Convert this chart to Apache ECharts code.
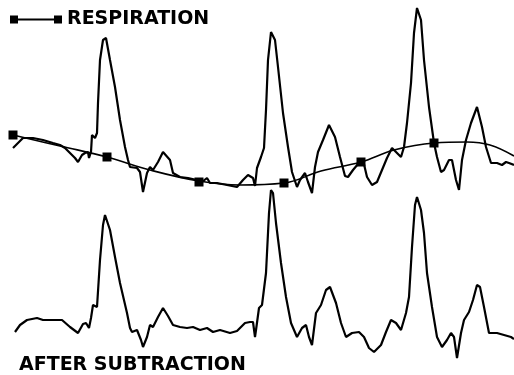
<!DOCTYPE html>
<html><head><meta charset="utf-8">
<script src="https://cdn.jsdelivr.net/npm/echarts@6/dist/echarts.min.js"></script>
<style>html,body{margin:0;padding:0;background:#fff}#c{width:514px;height:375px}</style>
</head><body><div id="c"></div>
<script>
// Raw ECG with respiration baseline wander: [time, level]
var ecgRaw = [[13,148],[18,143],[23,138],[33,138],[43,140],[53,143],[60,145],[65,148],[70,153],[75,158],[78,162],[82,155],[85,153],[88,152],[89,158],[91,152],[92,135],[93,133],[95,138],[97,133],[98,103],[100,60],[103,40],[106,38],[110,60],[115,87],[120,120],[125,147],[128,160],[130,167],[137,168],[140,172],[143,192],[147,173],[150,167],[153,170],[158,162],[163,152],[165,152],[170,160],[173,173],[180,177],[188,178],[197,180],[202,182],[207,178],[210,183],[217,183],[227,185],[237,187],[243,180],[248,175],[253,178],[255,186],[257,168],[261,157],[264,148],[266,110],[268,60],[271,32],[273,30],[275,40],[278,67],[283,113],[288,147],[292,172],[297,187],[300,180],[305,173],[308,182],[312,193],[315,167],[318,152],[323,140],[329,125],[331,127],[335,137],[340,157],[345,176],[348,177],[353,170],[358,164],[363,160],[367,177],[372,185],[377,182],[382,170],[387,158],[392,148],[396,152],[401,157],[404,147],[407,123],[411,83],[414,33],[417,8],[421,20],[424,60],[429,107],[434,143],[437,157],[441,172],[444,170],[449,160],[452,160],[456,180],[459,190],[462,160],[466,140],[471,123],[477,107],[479,108],[482,127],[486,147],[491,163],[497,163],[502,165],[506,162],[509,163],[514,165]];
// Respiration estimate curve
var respCurve = [[13,135],[60,146],[107,157],[150,170],[199,181],[240,185],[284,183],[321,171],[361,162],[394,150],[434,143],[467,142],[490,145],[514,156]];
// Respiration sample markers
var respMarkers = [[13,135],[107,157],[199,182],[284,183],[361,162],[434,143]];
// ECG after subtraction
var ecgCorrected = [[15,332],[20,325],[27,320],[37,318],[43,320],[53,320],[62,320],[70,327],[78,333],[83,324],[86,323],[88,323],[89,328],[91,318],[93,305],[95,307],[97,307],[100,260],[103,225],[105,215],[107,217],[110,230],[115,257],[120,283],[127,313],[130,328],[132,332],[137,330],[141,340],[143,347],[145,347],[147,337],[150,325],[153,327],[158,317],[163,308],[168,316],[173,325],[180,327],[187,328],[193,327],[200,330],[207,328],[213,332],[220,330],[230,333],[237,331],[245,323],[250,322],[253,322],[255,337],[256,330],[259,308],[262,305],[266,273],[269,213],[271,190],[273,193],[276,223],[281,263],[286,297],[291,323],[297,337],[302,328],[306,325],[309,337],[312,345],[316,313],[321,305],[326,290],[330,287],[336,303],[341,323],[346,337],[352,333],[359,332],[364,337],[369,348],[374,352],[381,345],[386,332],[391,320],[396,323],[401,330],[406,313],[409,297],[412,247],[415,205],[417,197],[421,210],[424,233],[427,273],[432,307],[437,337],[442,347],[447,340],[451,333],[454,337],[457,358],[461,333],[464,320],[469,312],[473,300],[477,285],[480,287],[484,307],[489,333],[497,333],[504,335],[511,337],[514,339]];
var legendLabel = 'RESPIRATION';
var captionText = 'AFTER SUBTRACTION';

var chart = echarts.init(document.getElementById('c'), null, {renderer:'canvas'});
var txt = {fontFamily:'DejaVu Sans', fontWeight:'bold', fontSize:19, color:'#000'};
chart.setOption({
  animation:false,
  backgroundColor:'#fff',
  grid:{left:0,right:0,top:0,bottom:0},
  xAxis:{type:'value',min:0,max:514,show:false},
  yAxis:{type:'value',min:0,max:375,inverse:true,show:false},
  legend:{left:10,top:10,padding:0,itemWidth:52,itemHeight:8,
    data:[{name:legendLabel,icon:'path://M0,0h8v8h-8z M44,0h8v8h-8z M8,3h36v2h-36z'}],
    textStyle:txt, selectedMode:false},
  title:{text:captionText,left:19,top:356,padding:0,textStyle:txt},
  series:[
    {type:'line',name:'raw',data:ecgRaw,symbol:'none',lineStyle:{color:'#000',width:2.2},itemStyle:{color:'#000'}},
    {type:'line',name:legendLabel,data:respCurve,smooth:0.4,symbol:'none',lineStyle:{color:'#000',width:1.6},itemStyle:{color:'#000'}},
    {type:'scatter',name:'markers',data:respMarkers,symbol:'rect',symbolSize:9,itemStyle:{color:'#000',opacity:1}},
    {type:'line',name:'corrected',data:ecgCorrected,symbol:'none',lineStyle:{color:'#000',width:2.2},itemStyle:{color:'#000'}}
  ]
});
</script></body></html>
